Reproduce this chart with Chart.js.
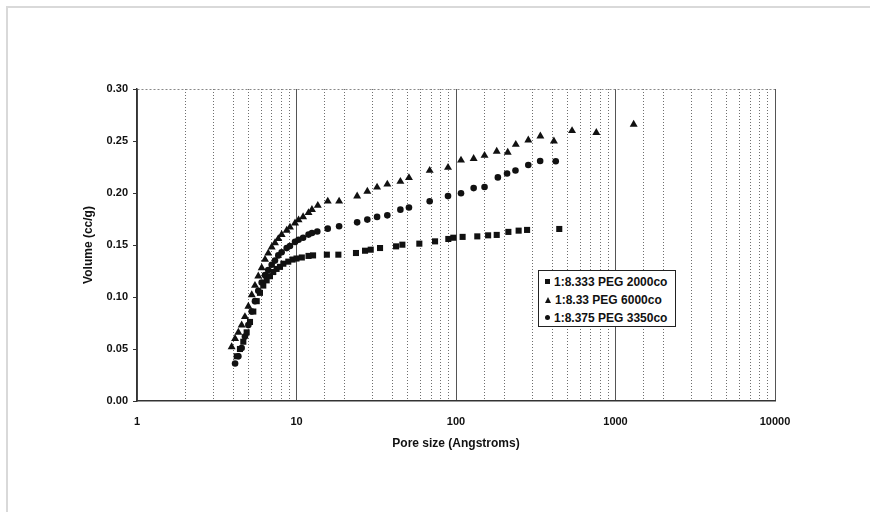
<!DOCTYPE html>
<html>
<head>
<meta charset="utf-8">
<script src="https://cdn.jsdelivr.net/npm/chart.js@4/dist/chart.umd.min.js"></script>
<style>
  html, body { margin: 0; padding: 0; background: #fff; }
  #wrap { position: relative; width: 870px; height: 512px; overflow: hidden; }
  #frame { position: absolute; left: 6px; top: 6px; width: 900px; height: 600px;
           border-left: 2px solid #d9d9d9; border-top: 2px solid #d9d9d9; }
  #legend { position: absolute; left: 538px; top: 270px; width: 138px; height: 57px;
            border: 1px solid #222; background: #fff; box-sizing: border-box;
            font: bold 12px "Liberation Sans", Arial, sans-serif; color: #111;
            padding-top: 2px; }
  #legend div { height: 18px; line-height: 18px; white-space: nowrap; padding-left: 6px; }
  .mk { display: inline-block; margin-right: 4px; vertical-align: middle; position: relative; top: -1px; }
  .sq { width: 5px; height: 5px; background: #111; }
  .tri { width: 0; height: 0; border-left: 3px solid transparent; border-right: 3px solid transparent; border-bottom: 6px solid #111; }
  .ci { width: 5px; height: 5px; background: #111; border-radius: 50%; }
</style>
</head>
<body>
<div id="wrap">
  <div id="frame"></div>
  <canvas id="chart" width="870" height="512"></canvas>
  <div id="legend"></div>
</div>
<script>
// series: [pore size (A), volume (cc/g)]
const peg2000 = [
  [4.22, 0.043], [4.42, 0.050], [4.64, 0.057], [4.87, 0.066], [5.11, 0.076], [5.36, 0.086],
  [5.63, 0.096], [5.90, 0.104], [6.19, 0.111], [6.50, 0.116], [6.82, 0.120], [7.15, 0.124],
  [7.50, 0.127], [7.88, 0.129], [8.27, 0.132], [8.88, 0.134], [9.45, 0.136], [10.0, 0.137],
  [10.8, 0.138], [11.9, 0.1395], [12.7, 0.140], [15.5, 0.1407], [18.3, 0.1407], [23.6, 0.1423],
  [26.9, 0.1445], [29.2, 0.1455], [33.4, 0.1471], [42.1, 0.1487], [46.1, 0.1503], [58.9, 0.1513],
  [73.9, 0.1535], [89.5, 0.1558], [96.2, 0.157], [110, 0.1578], [136, 0.1583], [159, 0.1593],
  [180, 0.1597], [213, 0.1626], [247, 0.1638], [279, 0.1645], [444, 0.1654]
];
const peg6000 = [
  [3.92, 0.052], [4.12, 0.060], [4.32, 0.066], [4.53, 0.073], [4.75, 0.081], [4.99, 0.091],
  [5.24, 0.102], [5.49, 0.111], [5.76, 0.120], [6.05, 0.128], [6.35, 0.136], [6.65, 0.142],
  [6.99, 0.148], [7.33, 0.152], [7.69, 0.156], [8.07, 0.160], [8.68, 0.164], [9.10, 0.167],
  [9.79, 0.171], [10.3, 0.174], [11.0, 0.177], [11.9, 0.181], [12.5, 0.184], [13.6, 0.188],
  [15.7, 0.192], [18.5, 0.192], [24.0, 0.197], [27.8, 0.2016], [32.0, 0.2055], [37.1, 0.2084],
  [44.8, 0.211], [50.7, 0.2146], [68.4, 0.2216], [89.1, 0.2245], [107.5, 0.2315], [129, 0.233],
  [151, 0.236], [180, 0.240], [211, 0.239], [237, 0.2466], [284, 0.2508], [338, 0.2546],
  [411, 0.2498], [534, 0.2598], [758, 0.258], [1300, 0.266]
];
const peg3350 = [
  [4.12, 0.036], [4.32, 0.043], [4.53, 0.051], [4.75, 0.062], [4.99, 0.073], [5.24, 0.086],
  [5.49, 0.096], [5.76, 0.106], [6.05, 0.114], [6.35, 0.121], [6.65, 0.126], [6.99, 0.131],
  [7.33, 0.135], [7.69, 0.140], [8.07, 0.143], [8.68, 0.147], [9.10, 0.149], [9.79, 0.153],
  [10.3, 0.155], [11.0, 0.157], [11.9, 0.160], [12.5, 0.1615], [13.5, 0.163], [15.7, 0.1657],
  [18.5, 0.168], [24.0, 0.1718], [27.8, 0.1744], [32.0, 0.177], [37.1, 0.1785], [44.8, 0.184],
  [50.7, 0.186], [68.4, 0.192], [89.1, 0.197], [107.5, 0.1997], [129, 0.2047], [151, 0.2057],
  [183, 0.215], [209, 0.2187], [236, 0.2216], [284, 0.2269], [337, 0.2307], [422, 0.2305]
];
const seriesNames = ["1:8.333 PEG 2000co", "1:8.33 PEG 6000co", "1:8.375 PEG 3350co"];
const xTickLabels = [1, 10, 100, 1000, 10000];
const yTicks = { min: 0, max: 0.3, step: 0.05 };

const font = "'Liberation Sans', Arial, sans-serif";
const toPoints = (arr) => arr.map(([x, y]) => ({ x, y }));
const isDecade = (v) => xTickLabels.some((t) => Math.abs(v - t) < 1e-6);

const mk = (label, data, style, r) => ({
  label, data: toPoints(data), pointStyle: style, pointRadius: r,
  backgroundColor: "#111", borderColor: "#111", borderWidth: 0, showLine: false,
});

new Chart(document.getElementById("chart"), {
  type: "scatter",
  data: {
    datasets: [
      mk(seriesNames[0], peg2000, "rect", 4.3),
      mk(seriesNames[1], peg6000, "triangle", 4.6),
      mk(seriesNames[2], peg3350, "circle", 3.3),
    ],
  },
  options: {
    responsive: false,
    animation: false,
    devicePixelRatio: 1,
    layout: { padding: { top: 89, right: 95, bottom: 0, left: 0 } },
    plugins: { legend: { display: false }, tooltip: { enabled: false } },
    scales: {
      x: {
        type: "logarithmic",
        min: 1,
        max: 10000,
        afterFit: (s) => { s.height = 111; },
        grid: {
          drawTicks: false,
          lineWidth: 1,
          color: (c) => (c.tick && isDecade(c.tick.value) ? "#555" : "#6e6e6e"),
        },
        border: {
          color: "#333",
          width: 1.5,
          dash: (c) => (c.tick && !isDecade(c.tick.value) ? [1, 2] : []),
        },
        ticks: {
          autoSkip: false,
          maxRotation: 0,
          padding: 14,
          color: "#111",
          font: { family: font, size: 11, weight: "bold" },
          callback: (v) => (isDecade(v) ? String(v) : ""),
        },
        title: {
          display: true,
          text: "Pore size (Angstroms)",
          color: "#111",
          font: { family: font, size: 12, weight: "bold" },
          padding: { top: 0, bottom: 61 },
        },
      },
      y: {
        min: yTicks.min,
        max: yTicks.max,
        afterFit: (s) => { s.width = 137; },
        grid: {
          drawOnChartArea: true,
          tickLength: 4,
          tickColor: "#333",
          color: (c) => (c.tick && Math.abs(c.tick.value - 0.3) < 1e-6 ? "#888" : "rgba(0,0,0,0)"),
        },
        border: {
          color: "#333",
          width: 1.5,
          dash: (c) => (c.tick && Math.abs(c.tick.value - 0.3) < 1e-6 ? [2, 2] : []),
        },
        ticks: {
          stepSize: yTicks.step,
          padding: 5,
          color: "#111",
          font: { family: font, size: 11, weight: "bold" },
          callback: (v) => Number(v).toFixed(2),
        },
        title: {
          display: true,
          text: "Volume (cc/g)",
          color: "#111",
          font: { family: font, size: 12, weight: "bold" },
          padding: { top: 81, bottom: 0 },
        },
      },
    },
  },
});

// legend box sitting inside the plot, like the original
const markers = ["sq", "tri", "ci"];
document.getElementById("legend").innerHTML = seriesNames
  .map((n, i) => `<div><span class="mk ${markers[i]}"></span>${n}</div>`)
  .join("");
</script>
</body>
</html>
